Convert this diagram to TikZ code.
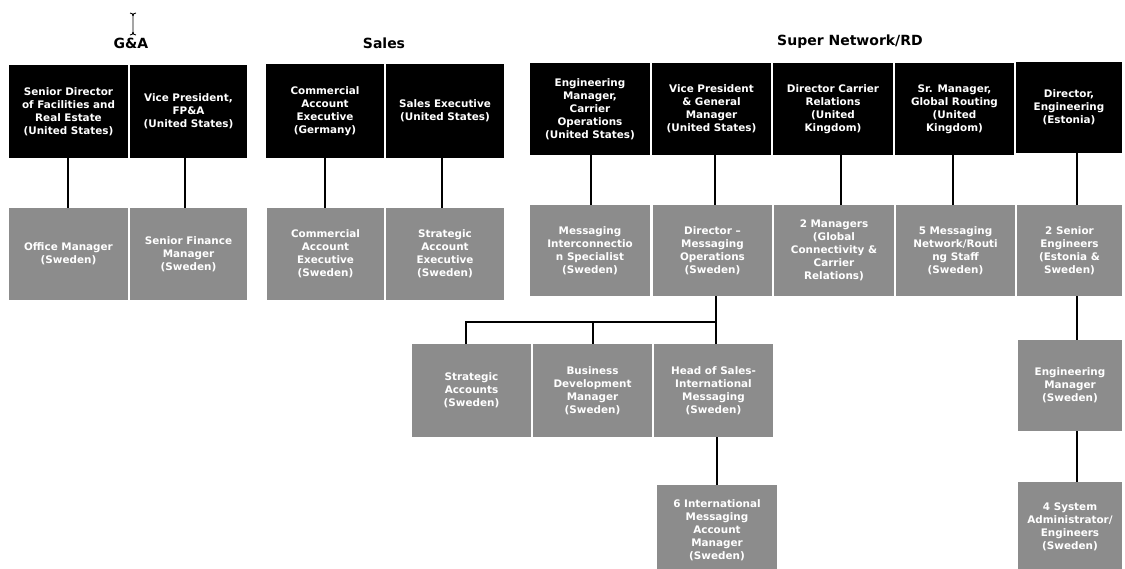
\documentclass[tikz,border=0pt]{standalone}
\usepackage{fontspec}
\setmainfont{DejaVu Sans}
\definecolor{boxgrey}{RGB}{140,140,140}
\newcommand{\boxfont}{\fontsize{10.4}{13}\selectfont\bfseries}
\newcommand{\ttlfont}{\fontsize{14}{16}\selectfont\bfseries}
\tikzset{
  box/.style={rectangle, inner sep=0pt, align=center, font=\boxfont, text=white},
  blk/.style={box, fill=black},
  gry/.style={box, fill=boxgrey},
  conn/.style={draw=black, line width=1.6pt},
  ttl/.style={font=\ttlfont, inner sep=0pt}
}
\begin{document}
\begin{tikzpicture}[x=1pt,y=-1pt]
\useasboundingbox[fill=white] (0,0) rectangle (1125,569);

% cursor
\draw[line width=0.8pt] (130,13) .. controls (132,13) and (133,14) .. (133,16) -- (133,32) .. controls (133,34) and (132,35) .. (130,35);
\draw[line width=0.8pt] (136,13) .. controls (134,13) and (133,14) .. (133,16);
\draw[line width=0.8pt] (136,35) .. controls (134,35) and (133,34) .. (133,32);

% titles
\node[ttl] (tga) at (131,43) {G\&A};
\node[ttl] (tsa) at (384,43) {Sales};
\node[ttl] (tsn) at (850,42) {Super Network/RD};

% G&A
\node[blk, minimum width=119pt, minimum height=93pt] (g1) at (68.5,111.5) {Senior Director\\of Facilities and\\Real Estate\\(United States)};
\node[blk, minimum width=117pt, minimum height=93pt] (g2) at (188.5,111.5) {Vice President,\\FP\&A\\(United States)};
\node[gry, minimum width=119pt, minimum height=92pt] (gg1) at (68.5,254) {Office Manager\\(Sweden)};
\node[gry, minimum width=117pt, minimum height=92pt] (gg2) at (188.5,254) {Senior Finance\\Manager\\(Sweden)};

% Sales
\node[blk, minimum width=118pt, minimum height=94pt] (s1) at (325,111) {Commercial\\Account\\Executive\\(Germany)};
\node[blk, minimum width=118pt, minimum height=94pt] (s2) at (445,111) {Sales Executive\\(United States)};
\node[gry, minimum width=117pt, minimum height=92pt] (sg1) at (325.5,254) {Commercial\\Account\\Executive\\(Sweden)};
\node[gry, minimum width=118pt, minimum height=92pt] (sg2) at (445,254) {Strategic\\Account\\Executive\\(Sweden)};

% Super Network / RD
\node[blk, minimum width=120pt, minimum height=92pt] (n1) at (590,109) {Engineering\\Manager,\\Carrier\\Operations\\(United States)};
\node[blk, minimum width=119pt, minimum height=92pt] (n2) at (711.5,109) {Vice President\\\& General\\Manager\\(United States)};
\node[blk, minimum width=120pt, minimum height=92pt] (n3) at (833,109) {Director Carrier\\Relations\\(United\\Kingdom)};
\node[blk, minimum width=119pt, minimum height=92pt] (n4) at (954.5,109) {Sr. Manager,\\Global Routing\\(United\\Kingdom)};
\node[blk, minimum width=106pt, minimum height=91pt] (n5) at (1069,107.5) {Director,\\Engineering\\(Estonia)};

\node[gry, minimum width=120pt, minimum height=91pt] (ng1) at (590,250.5) {Messaging\\Interconnectio\\n Specialist\\(Sweden)};
\node[gry, minimum width=119pt, minimum height=91pt] (ng2) at (712.5,250.5) {Director –\\Messaging\\Operations\\(Sweden)};
\node[gry, minimum width=120pt, minimum height=91pt] (ng3) at (834,250.5) {2 Managers\\(Global\\Connectivity \&\\Carrier\\Relations)};
\node[gry, minimum width=119pt, minimum height=91pt] (ng4) at (955.5,250.5) {5 Messaging\\Network/Routi\\ng Staff\\(Sweden)};
\node[gry, minimum width=105pt, minimum height=91pt] (ng5) at (1069.5,250.5) {2 Senior\\Engineers\\(Estonia \&\\Sweden)};

% lower level
\node[gry, minimum width=119pt, minimum height=93pt] (la1) at (471.5,390.5) {Strategic\\Accounts\\(Sweden)};
\node[gry, minimum width=119pt, minimum height=93pt] (la2) at (592.5,390.5) {Business\\Development\\Manager\\(Sweden)};
\node[gry, minimum width=119pt, minimum height=93pt] (la3) at (713.5,390.5) {Head of Sales-\\International\\Messaging\\(Sweden)};
\node[gry, minimum width=120pt, minimum height=90pt] (lb) at (717,530) {6 International\\Messaging\\Account\\Manager\\(Sweden)};
\node[gry, minimum width=104pt, minimum height=91pt] (re1) at (1070,385.5) {Engineering\\Manager\\(Sweden)};
\node[gry, minimum width=104pt, minimum height=90pt] (re2) at (1070,527) {4 System\\Administrator/\\Engineers\\(Sweden)};

% connectors
\draw[conn] ([xshift=-0.5pt]g1.south) -- ([xshift=-0.5pt]g1.south |- gg1.north);
\draw[conn] ([xshift=-3.5pt]g2.south) -- ([xshift=-3.5pt]g2.south |- gg2.north);
\draw[conn] (s1.south) -- (s1.south |- sg1.north);
\draw[conn] ([xshift=-3pt]s2.south) -- ([xshift=-3pt]s2.south |- sg2.north);
\draw[conn] ([xshift=1pt]n1.south) -- ([xshift=1pt]n1.south |- ng1.north);
\draw[conn] ([xshift=3.5pt]n2.south) -- ([xshift=3.5pt]n2.south |- ng2.north);
\draw[conn] ([xshift=8pt]n3.south) -- ([xshift=8pt]n3.south |- ng3.north);
\draw[conn] ([xshift=-1.5pt]n4.south) -- ([xshift=-1.5pt]n4.south |- ng4.north);
\draw[conn] ([xshift=8pt]n5.south) -- ([xshift=8pt]n5.south |- ng5.north);

\coordinate (bus) at (716,322);
\draw[conn] ([xshift=3.5pt]ng2.south) -- ([xshift=3.5pt]ng2.south |- la3.north);
\draw[conn] (bus) -| ([xshift=-5.5pt]la1.north);
\draw[conn] (bus) -| ([xshift=0.5pt]la2.north);
\draw[conn] ([xshift=3.5pt]la3.south) -- ([xshift=3.5pt]la3.south |- lb.north);

\draw[conn] ([xshift=7.5pt]ng5.south) -- ([xshift=7.5pt]ng5.south |- re1.north);
\draw[conn] ([xshift=7pt]re1.south) -- ([xshift=7pt]re1.south |- re2.north);
\end{tikzpicture}
\end{document}
